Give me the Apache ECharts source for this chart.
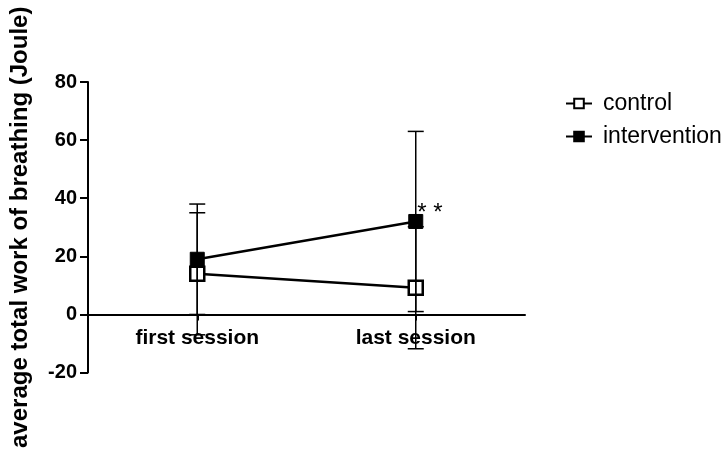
<!DOCTYPE html>
<html>
<head>
<meta charset="utf-8">
<script src="https://cdn.jsdelivr.net/npm/echarts@6/dist/echarts.min.js"></script>
<style>
  html, body { margin: 0; padding: 0; background: #fff; }
  #chart { width: 724px; height: 451px; }
</style>
</head>
<body>
<div id="chart"></div>
<script>
// Sessions on the x axis
const categories = ['first session', 'last session'];
// Group means (Joule)
const controlMean = [14, 9.2];
const interventionMean = [19, 32];
// Error bar half-widths (SD)
const controlErr = [21, 21];
const interventionErr = [19, 31];
// Y axis ticks
const yTicks = [-20, 0, 20, 40, 60, 80];
// Significance marker on the last intervention point
const sigMark = '* *';

const FONT = 'Liberation Sans, Arial, sans-serif';
const GRID = { left: 83, right: 199, top: 82, bottom: 78 };

function errData(mean, err) {
  return mean.map((m, i) => [i, m - err[i], m + err[i]]);
}

function renderErr(params, api) {
  const x = api.value(0);
  const lo = api.coord([x, api.value(1)]);
  const hi = api.coord([x, api.value(2)]);
  const cap = 8;
  const style = { stroke: '#000', lineWidth: 1.5, fill: null };
  return {
    type: 'group',
    children: [
      { type: 'line', shape: { x1: hi[0], y1: hi[1], x2: lo[0], y2: lo[1] }, style },
      { type: 'line', shape: { x1: hi[0] - cap, y1: hi[1], x2: hi[0] + cap, y2: hi[1] }, style },
      { type: 'line', shape: { x1: lo[0] - cap, y1: lo[1], x2: lo[0] + cap, y2: lo[1] }, style }
    ]
  };
}

// Lift the category axis from the bottom of the grid to the y = 0 line
const plotH = 451 - GRID.top - GRID.bottom;
const yMin = yTicks[0], yMax = yTicks[yTicks.length - 1];
const zeroLift = plotH * (0 - yMin) / (yMax - yMin);

const chart = echarts.init(document.getElementById('chart'), null, { renderer: 'canvas' });

chart.setOption({
  animation: false,
  backgroundColor: '#fff',
  grid: Object.assign({ containLabel: false }, GRID),
  legend: {
    orient: 'vertical',
    left: 560,
    top: 87,
    itemGap: 10,
    itemWidth: 26,
    itemHeight: 12,
    data: ['control', 'intervention'],
    textStyle: { fontFamily: FONT, fontSize: 23, color: '#000', padding: [0, 0, 0, 6] }
  },
  xAxis: {
    type: 'category',
    data: categories,
    offset: -zeroLift,
    axisLine: { onZero: false, lineStyle: { color: '#000', width: 2 } },
    axisTick: { show: true, alignWithLabel: true, length: 6, lineStyle: { color: '#000', width: 2 } },
    axisLabel: { color: '#000', fontFamily: FONT, fontWeight: 'bold', fontSize: 21, margin: 13 },
    splitLine: { show: false }
  },
  yAxis: {
    type: 'value',
    min: yMin,
    max: yMax,
    interval: 20,
    name: 'average total work of breathing (Joule)',
    nameLocation: 'middle',
    nameGap: 56,
    nameTextStyle: { color: '#000', fontFamily: FONT, fontWeight: 'bold', fontSize: 24 },
    axisLine: { show: true, lineStyle: { color: '#000', width: 2 } },
    axisTick: { show: true, length: 8, lineStyle: { color: '#000', width: 2 } },
    axisLabel: { color: '#000', fontFamily: FONT, fontWeight: 'bold', fontSize: 20, margin: 11 },
    splitLine: { show: false }
  },
  series: [
    {
      name: 'control',
      type: 'line',
      data: controlMean,
      symbol: 'rect',
      symbolSize: 14,
      lineStyle: { color: '#000', width: 2.5 },
      itemStyle: { color: '#fff', borderColor: '#000', borderWidth: 2.5 },
      z: 3
    },
    {
      name: 'intervention',
      type: 'line',
      data: interventionMean.map((v, i) => i === interventionMean.length - 1 ? {
        value: v,
        label: {
          show: true,
          formatter: sigMark,
          position: [9, -1],
          verticalAlign: 'middle',
          align: 'left',
          fontFamily: FONT,
          fontSize: 24,
          color: '#000'
        }
      } : v),
      symbol: 'rect',
      symbolSize: 14,
      lineStyle: { color: '#000', width: 2.5 },
      itemStyle: { color: '#000', borderColor: '#000', borderWidth: 1 },
      z: 3
    },
    {
      type: 'custom',
      renderItem: renderErr,
      data: errData(controlMean, controlErr),
      encode: { x: 0, y: [1, 2] },
      z: 4,
      silent: true
    },
    {
      type: 'custom',
      renderItem: renderErr,
      data: errData(interventionMean, interventionErr),
      encode: { x: 0, y: [1, 2] },
      z: 4,
      silent: true
    }
  ]
});
</script>
</body>
</html>
